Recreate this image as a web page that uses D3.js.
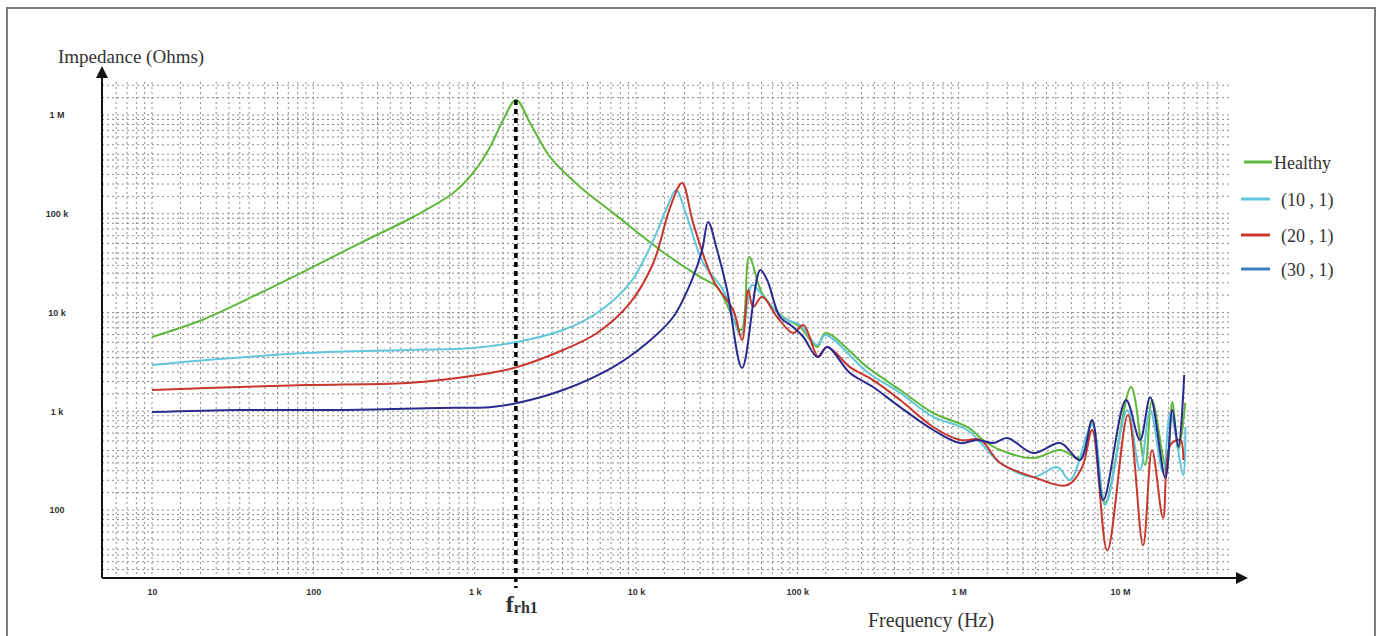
<!DOCTYPE html>
<html>
<head>
<meta charset="utf-8">
<title>Impedance vs frequency</title>
<script src="https://d3js.org/d3.v7.min.js"></script>
<style>
  body { margin: 0; background: #fff; }
  .tick text { font-family: "Liberation Sans", Arial, sans-serif; font-size: 9px; fill: #333; font-weight: bold; }
  .serif { font-family: "Liberation Serif", "Times New Roman", serif; fill: #333; }
  .grid line { stroke: #8c8c8c; stroke-width: 1; stroke-dasharray: 2,3; }
  .curve { fill: none; stroke-width: 2; stroke-linejoin: round; }
</style>
</head>
<body>
<script>
// values: [frequency Hz, impedance Ohms]
var healthy = [
  [10,5650],[20.4,8400],[41.7,14400],[91,26900],[195,50500],[415,92700],[735,162000],
  [977,259000],[1245,474000],[1500,889000],[1805,1420000],[2205,830000],[2930,376000],
  [4500,187000],[7210,102000],[14100,43000],[24900,22900],[31800,18100],[44800,6650],
  [50300,36500],[60500,15700],[81700,9000],[104000,7130],[133000,4470],[149000,6200],
  [271000,2800],[434000,1640],[695000,960],[1130000,693],[1420000,512],[1810000,405],
  [2900000,336],[4260000,405],[5660000,336],[6720000,778],[8090000,118],[11700000,1760],
  [14300000,286],[15800000,1300],[19400000,254],[21100000,1240],[23000000,405],[25400000,1210]
];
var fault10 = [
  [10,2940],[21.9,3300],[91,3890],[381,4170],[977,4370],[1830,5030],[3530,6650],
  [5740,9890],[9190,19900],[12800,54200],[15600,117000],[17700,174000],[20700,92700],
  [26100,31700],[34700,16900],[44800,5920],[52500,19000],[60500,15000],[81700,8790],
  [104000,7470],[133000,4690],[149000,5920],[271000,2500],[434000,1530],[695000,875],
  [1130000,646],[1810000,299],[2900000,216],[4080000,272],[4910000,201],[6720000,726],
  [8090000,112],[11100000,1030],[13300000,254],[15400000,1030],[18500000,237],
  [20500000,960],[24700000,226],[25400000,693]
];
var fault20 = [
  [10,1640],[21.9,1720],[91,1840],[381,1930],[778,2170],[1245,2440],[1830,2800],
  [3530,4170],[5740,6200],[9190,12500],[12800,31700],[16300,117000],[19300,205000],
  [22600,80500],[30100,21300],[40000,10600],[45500,5270],[49600,16900],[53200,11400],
  [60500,14400],[75000,9000],[94200,6200],[109000,7470],[135000,3540],[153000,4470],
  [212000,2800],[295000,2070],[434000,1300],[695000,693],[1020000,512],[1360000,512],
  [1810000,299],[2900000,216],[4710000,179],[5830000,272],[6720000,646],[8340000,39],
  [11200000,916],[13900000,44],[15800000,405],[18500000,83],[20500000,455],
  [23600000,512],[24700000,321]
];
var fault30 = [
  [10,982],[35.2,1030],[147,1030],[610,1080],[1245,1100],[1830,1210],[3530,1640],
  [7210,2800],[11700,4910],[17000,9000],[22600,22900],[25700,43000],[28000,82400],
  [31800,43000],[36700,16900],[45500,2740],[58900,26900],[65000,21300],[78200,9000],
  [94200,7130],[109000,5650],[133000,3540],[153000,4470],[212000,2440],[295000,1760],
  [434000,1100],[695000,646],[1020000,476],[1300000,512],[1640000,476],[2000000,536],
  [2900000,378],[4260000,476],[5660000,321],[6720000,815],[7870000,126],[10900000,1300],
  [13300000,512],[15400000,1390],[19100000,211],[21100000,1030],[23000000,435],
  [25000000,2330]
];

var seriesNames = ["Healthy", "(10 , 1)", "(20 , 1)", "(30 , 1)"];
var seriesData = [healthy, fault10, fault20, fault30];
var lineColors = ["#5fb83c", "#62c6dc", "#c8362c", "#2b2b8e"];
var legendColors = ["#5fb83c", "#62c6dc", "#c8362c", "#3d7fc0"];

var xTicks = [10, 100, 1e3, 1e4, 1e5, 1e6, 1e7];
var xTickLabels = ["10", "100", "1 k", "10 k", "100 k", "1 M", "10 M"];
var yTicks = [100, 1e3, 1e4, 1e5, 1e6];
var yTickLabels = ["100", "1 k", "10 k", "100 k", "1 M"];
var resonance = 1800; // f_rh1

var W = 1383, H = 636;
var svg = d3.select("body").append("svg").attr("width", W).attr("height", H);

// outer frame
svg.append("rect").attr("x", 7).attr("y", 8).attr("width", 1368).attr("height", 640)
  .attr("fill", "none").attr("stroke", "#7a7a7a").attr("stroke-width", 2);

var x = d3.scaleLog().domain([10, 1e7]).range([152, 1120]);
var y = d3.scaleLog().domain([100, 1e6]).range([510, 115]);

var plotLeft = 102, plotRight = 1232, plotTop = 82, plotBottom = 578;

// grid lines at 1..9 per decade plus a few sub-steps (dense reference grid)
var steps = [1, 1.5, 2, 2.5, 3, 3.5, 4, 5, 6, 7, 8, 9];
var gx = [], gy = [];
for (var d = 0; d <= 7; d++) steps.forEach(function (m) {
  var v = m * Math.pow(10, d);
  if (x(v) > plotLeft + 2 && x(v) < plotRight) gx.push(v);
  if (y(v) < plotBottom - 2 && y(v) > plotTop - 1) gy.push(v);
});
var grid = svg.append("g").attr("class", "grid");
grid.selectAll("line.v").data(gx).join("line").attr("class", "v")
  .attr("x1", function (v) { return x(v); }).attr("x2", function (v) { return x(v); })
  .attr("y1", plotTop).attr("y2", plotBottom);
grid.selectAll("line.h").data(gy).join("line").attr("class", "h")
  .attr("x1", plotLeft).attr("x2", plotRight)
  .attr("y1", function (v) { return y(v); }).attr("y2", function (v) { return y(v); });

// curves
var line = d3.line()
  .x(function (p) { return x(p[0]); })
  .y(function (p) { return y(p[1]); })
  .curve(d3.curveCatmullRom.alpha(0.5));

seriesData.forEach(function (s, i) {
  svg.append("path").attr("class", "curve")
    .attr("d", line(s))
    .attr("stroke", lineColors[i]);
});

// resonance marker
svg.append("line")
  .attr("x1", x(resonance)).attr("x2", x(resonance))
  .attr("y1", y(1420000)).attr("y2", 588)
  .attr("stroke", "#000").attr("stroke-width", 3.5).attr("stroke-dasharray", "5,4");

// axes lines with arrows
svg.append("line").attr("x1", plotLeft).attr("x2", plotLeft).attr("y1", plotBottom).attr("y2", 76)
  .attr("stroke", "#111").attr("stroke-width", 2);
svg.append("path").attr("d", "M" + plotLeft + ",66 L" + (plotLeft - 6) + ",78 L" + (plotLeft + 6) + ",78 Z").attr("fill", "#111");
svg.append("line").attr("x1", plotLeft).attr("x2", 1240).attr("y1", plotBottom).attr("y2", plotBottom)
  .attr("stroke", "#111").attr("stroke-width", 2);
svg.append("path").attr("d", "M1248," + plotBottom + " L1236," + (plotBottom - 6) + " L1236," + (plotBottom + 6) + " Z").attr("fill", "#111");

// tick labels
var xAxis = d3.axisBottom(x).tickValues(xTicks).tickSize(0)
  .tickFormat(function (v, i) { return xTickLabels[i]; });
svg.append("g").attr("transform", "translate(0," + 586 + ")").call(xAxis)
  .call(function (g) { g.select(".domain").remove(); });

var yAxis = d3.axisLeft(y).tickValues(yTicks).tickSize(0)
  .tickFormat(function (v, i) { return yTickLabels[i]; });
svg.append("g").attr("transform", "translate(57,0)").call(yAxis)
  .call(function (g) {
    g.select(".domain").remove();
    g.selectAll("text").attr("text-anchor", "middle").attr("x", 0);
  });

// titles
svg.append("text").attr("class", "serif").attr("x", 58).attr("y", 63)
  .attr("font-size", 19).text("Impedance (Ohms)");
svg.append("text").attr("class", "serif").attr("x", 868).attr("y", 627)
  .attr("font-size", 20).text("Frequency (Hz)");
var fr = svg.append("text").attr("class", "serif").attr("x", x(resonance) - 10).attr("y", 612)
  .attr("font-size", 24).attr("font-weight", "bold");
fr.append("tspan").text("f");
fr.append("tspan").attr("font-size", 16).attr("dy", 1).text("rh1");

// legend
var legendY = [163, 200, 236, 270];
var lg = svg.append("g");
seriesNames.forEach(function (n, i) {
  lg.append("line").attr("x1", i === 0 ? 1244 : 1241).attr("x2", i === 0 ? 1272 : 1270)
    .attr("y1", legendY[i] - 1).attr("y2", legendY[i] - 1)
    .attr("stroke", legendColors[i]).attr("stroke-width", 3);
  lg.append("text").attr("class", "serif").attr("x", i === 0 ? 1274 : 1281)
    .attr("y", legendY[i] + 6).attr("font-size", 18).text(n);
});
</script>
</body>
</html>
